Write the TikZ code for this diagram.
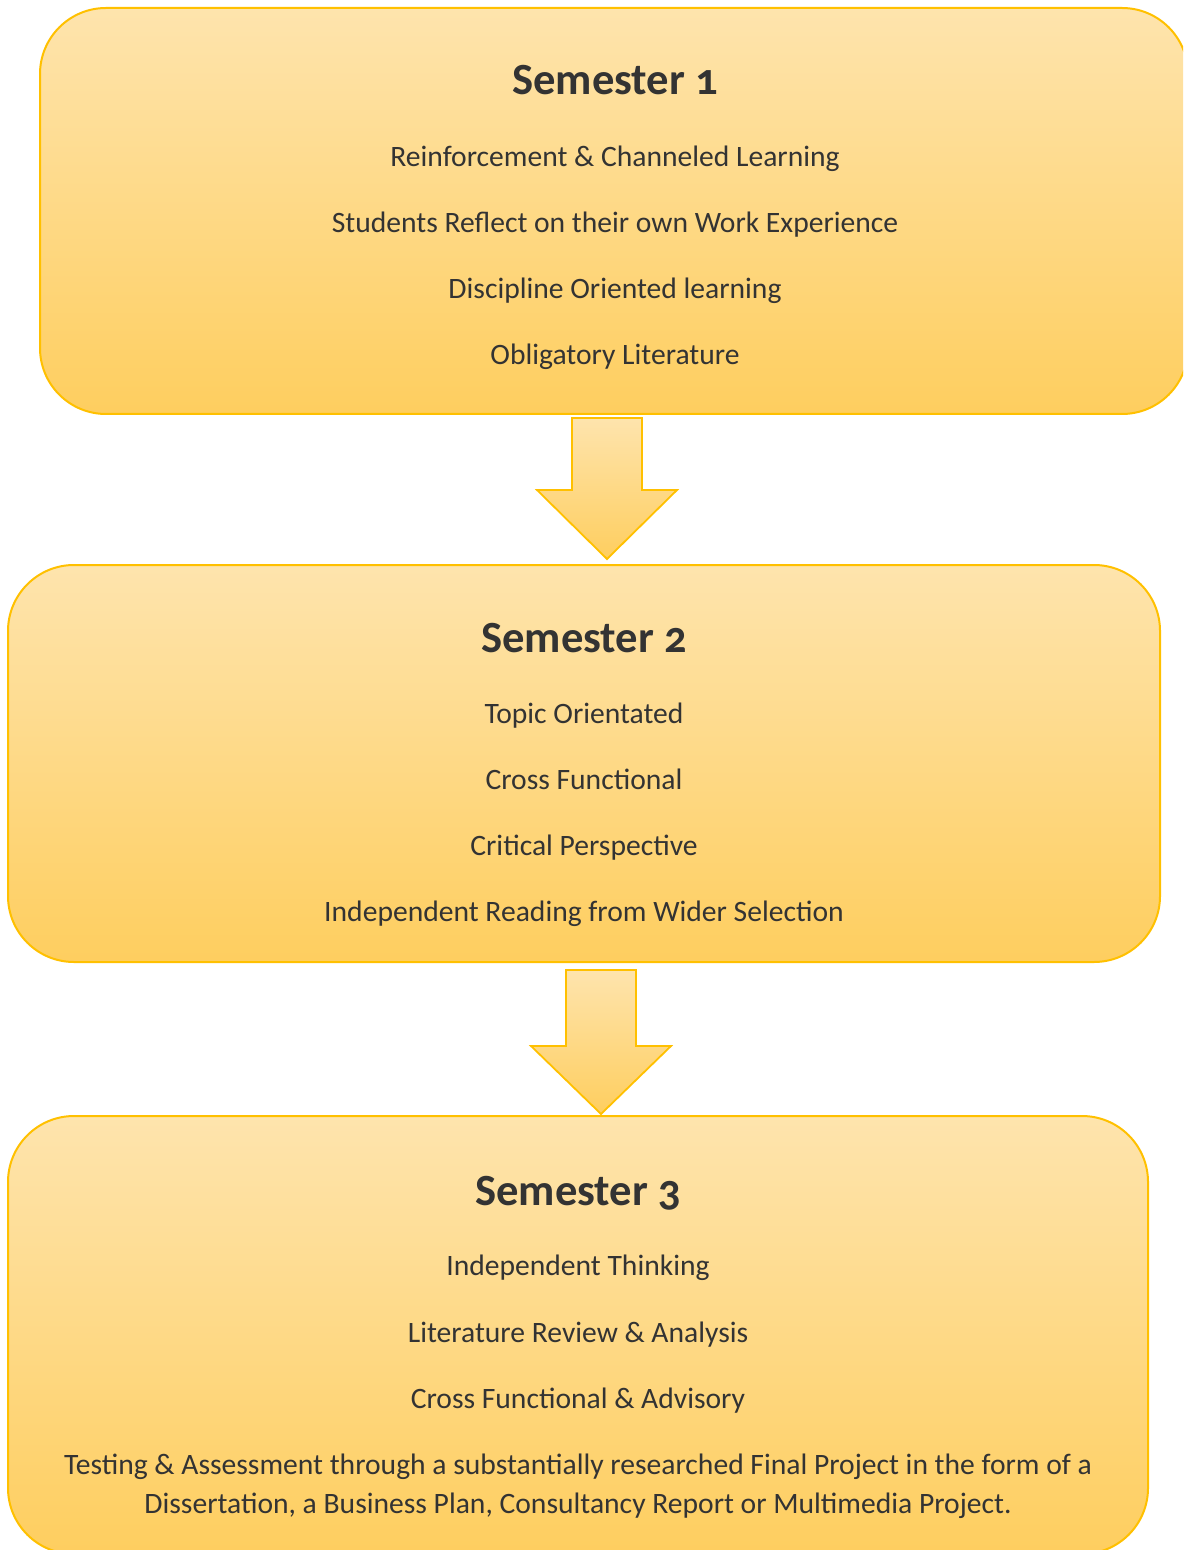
\documentclass[tikz,border=0pt]{standalone}
\usepackage{fontspec}
\setmainfont{Carlito}[Numbers=OldStyle]
\definecolor{gold}{HTML}{FFC000}
\definecolor{ltop}{HTML}{FEE4AD}
\definecolor{lbot}{HTML}{FECE5F}
\definecolor{txt}{HTML}{333333}
\begin{document}
\begin{tikzpicture}[x=0.5pt,y=-0.5pt,
  boxshape/.style={draw=gold, line width=1pt, rounded corners=33pt, top color=ltop, bottom color=lbot, inner sep=0pt},
  arrowshape/.style={draw=gold, line width=0.9pt, top color=ltop, bottom color=lbot, line join=miter},
  ttl/.style={anchor=base, text=txt, font=\fontsize{22.3}{27}\selectfont\bfseries, inner sep=0pt},
  itm/.style={anchor=base, text=txt, font=\fontsize{14.8}{19.5}\selectfont, inner sep=0pt}]
\useasboundingbox (0,0) rectangle (1183,1550);
\clip (0,0) rectangle (1183,1550);
% boxes
\node[boxshape, minimum width=574pt, minimum height=203pt] (s1) at (614,211) {};
\node[boxshape, minimum width=576pt, minimum height=198.5pt] (s2) at (584,763.5) {};
\node[boxshape, minimum width=570pt, minimum height=219pt] (s3) at (578,1335) {};
% arrows
\coordinate (a1tail) at (607,418);
\coordinate (a1tip) at (607,559);
\draw[arrowshape] (572,418) -- (642,418) -- (642,490) -- (677,490) -- (a1tip) -- (537,490) -- (572,490) -- cycle;
\coordinate (a2tail) at (601,970);
\coordinate (a2tip) at (601,1114);
\draw[arrowshape] (566,970) -- (636,970) -- (636,1046) -- (671,1046) -- (a2tip) -- (531,1046) -- (566,1046) -- cycle;
% semester 1
\node[ttl] (t1) at (615,95) {Semester 1};
\node[itm] (t1a) at (615,167) {Reinforcement \& Channeled Learning};
\node[itm] (t1b) at (615,233) {Students Reflect on their own Work Experience};
\node[itm] (t1c) at (615,299) {Discipline Oriented learning};
\node[itm] (t1d) at (615,365) {Obligatory Literature};
% semester 2
\node[ttl] (t2) at (584,652) {Semester 2};
\node[itm] (t2a) at (584,723) {Topic Orientated};
\node[itm] (t2b) at (584,789) {Cross Functional};
\node[itm] (t2c) at (584,855) {Critical Perspective};
\node[itm] (t2d) at (584,921) {Independent Reading from Wider Selection};
% semester 3
\node[ttl] (t3) at (578,1205) {Semester 3};
\node[itm] (t3a) at (578,1275) {Independent Thinking};
\node[itm] (t3b) at (578,1342) {Literature Review \& Analysis};
\node[itm] (t3c) at (578,1408) {Cross Functional \& Advisory};
\node[itm] (t3d) at (578,1474) {Testing \& Assessment through a substantially researched Final Project in the form of a};
\node[itm] (t3e) at (578,1513) {Dissertation, a Business Plan, Consultancy Report or Multimedia Project.};
\end{tikzpicture}
\end{document}
